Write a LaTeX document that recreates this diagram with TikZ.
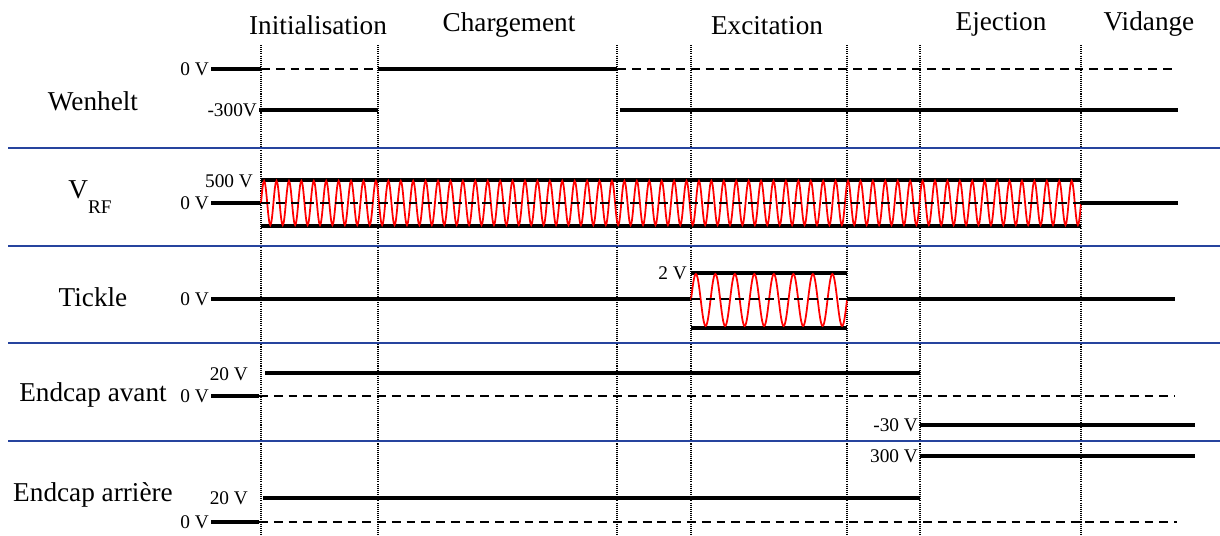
\documentclass[tikz,border=0pt]{standalone}
\usepackage{fontspec}
\setmainfont{Liberation Serif}
\usetikzlibrary{positioning}
\definecolor{sepblue}{RGB}{38,68,158}

\begin{document}
\begin{tikzpicture}[x=0.02cm, y=-0.02cm,
    sig/.style={line width=2.1pt},
    zero/.style={line width=0.9pt, dash pattern=on 5pt off 3.4pt},
    bound/.style={line width=1pt, dash pattern=on 0.6pt off 0.6pt},
    sep/.style={line width=1.5pt, draw=sepblue},
    wave/.style={draw=red, line width=1pt},
    phasename/.style={font=\fontsize{15.5}{18}\selectfont, anchor=base, inner sep=0pt},
    signame/.style={font=\fontsize{15.5}{18}\selectfont, anchor=base, inner sep=0pt},
    volt/.style={font=\fontsize{11}{13}\selectfont, anchor=east, inner sep=1pt}
  ]
  \useasboundingbox (0,0) rectangle (1220,536);

  % phases
  \node[phasename] (init) at (318,35) {Initialisation};
  \node[phasename] (charg) at (509,32) {Chargement};
  \node[phasename] (excit) at (767,35) {Excitation};
  \node[phasename] (eject) at (1001,31) {Ejection};
  \node[phasename] (vid) at (1149,31) {Vidange};
  \foreach \x in {261,378,617,691,847,920,1081}
    \draw[bound] (\x,45) -- (\x,536);
  \foreach \y in {148,246,343,441}
    \draw[sep] (8,\y) -- (1220,\y);

  % Wenhelt
  \node[signame] (wen) at (93,111) {Wenhelt};
  \node[volt] (w0) at (211,69) {0 V};
  \node[volt] (w300) at (259,110) {-300V};
  \draw[sig] (w0.east) -- (261,69);
  \draw[zero] (261,69) -- (378,69);
  \draw[sig] (378,69) -- (617,69);
  \draw[zero] (617,69) -- (1177,69);
  \draw[sig] (w300.east) -- (378,110);
  \draw[sig] (620,110) -- (1178,110);

  % V_RF
  \node[signame, anchor=base west] (vrf) at (68,199) {V\raisebox{-8pt}{\fontsize{11}{13}\selectfont RF}};
  \node[volt] (r500) at (255,181) {500 V};
  \node[volt] (r0) at (211,203) {0 V};
  \draw[sig] (r0.east) -- (261,203);
  \draw[sig] (261,180) -- (1081,180);
  \draw[sig] (261,226) -- (1081,226);
  \draw[wave] (261,203) \foreach \k in {1,...,66}{
      sin ++(3.106,-22) cos ++(3.106,22) sin ++(3.106,22) cos ++(3.106,-22) };
  \draw[zero] (261,203) -- (1081,203);
  \draw[sig] (1081,203) -- (1178,203);

  % Tickle
  \node[signame] (tick) at (93,307) {Tickle};
  \node[volt] (t0) at (211,299) {0 V};
  \node[volt] (t2) at (689,273) {2 V};
  \draw[sig] (t0.east) -- (691,299);
  \draw[sig] (691,273) -- (847,273);
  \draw[sig] (691,328) -- (847,328);
  \draw[wave] (691,300) \foreach \k in {1,...,8}{
      sin ++(4.875,-26) cos ++(4.875,26) sin ++(4.875,26) cos ++(4.875,-26) };
  \draw[zero] (691,299) -- (847,299);
  \draw[sig] (847,299) -- (1175,299);

  % Endcap avant
  \node[signame] (eav) at (93,402) {Endcap avant};
  \node[volt] (a20) at (250,374) {20 V};
  \node[volt] (a0) at (211,396) {0 V};
  \node[volt] (a30) at (920,425) {-30 V};
  \draw[sig] (265,373) -- (920,373);
  \draw[sig] (a0.east) -- (259,396);
  \draw[zero] (259,396) -- (1175,396);
  \draw[sig] (a30.east) -- (1195,425);

  % Endcap arriere
  \node[signame] (ear) at (93,501) {Endcap arrière};
  \node[volt] (b300) at (920,456) {300 V};
  \node[volt] (b20) at (250,498) {20 V};
  \node[volt] (b0) at (211,522) {0 V};
  \draw[sig] (b300.east) -- (1195,456);
  \draw[sig] (263,498) -- (920,498);
  \draw[sig] (b0.east) -- (259,522);
  \draw[zero] (259,522) -- (1177,522);
\end{tikzpicture}
\end{document}
